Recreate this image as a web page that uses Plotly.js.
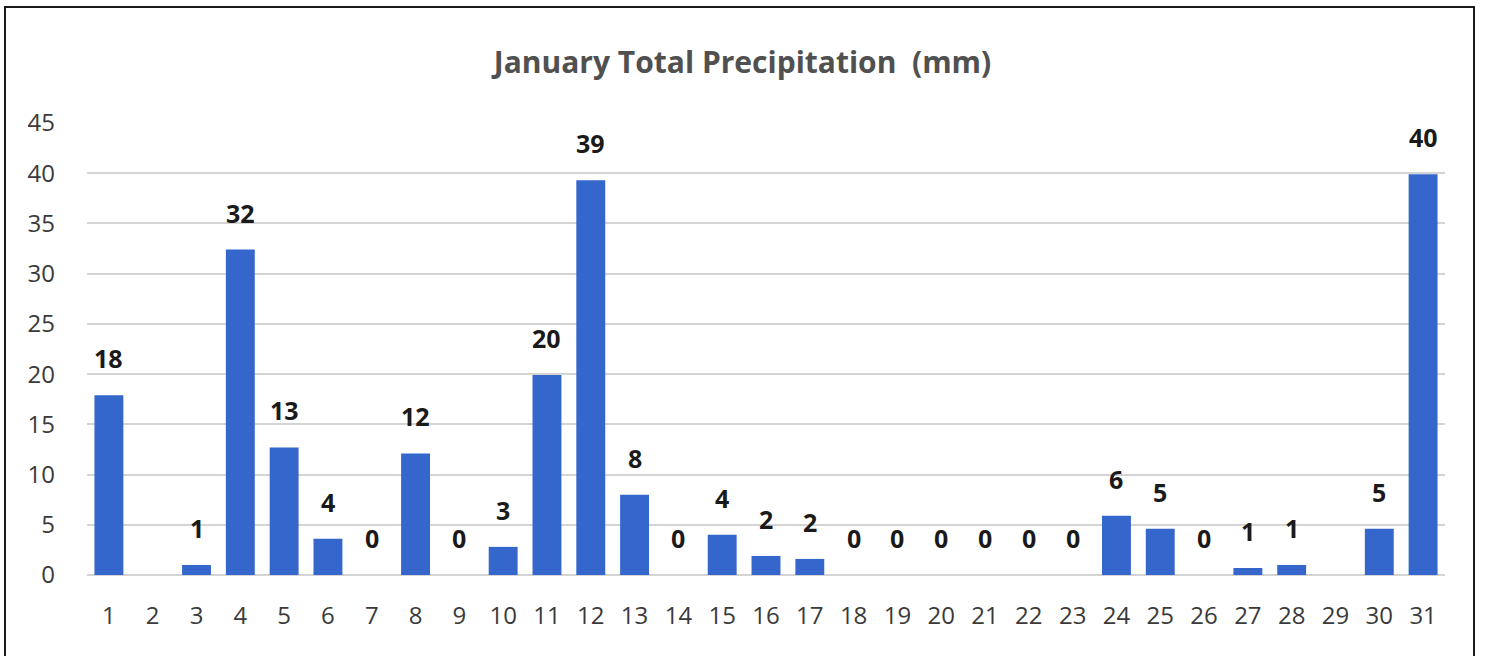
<!DOCTYPE html>
<html>
<head>
<meta charset="utf-8">
<script src="https://cdn.plot.ly/plotly-3.0.1.min.js"></script>
<style>
  html, body { margin: 0; padding: 0; background: #ffffff; }
  #wrap { position: relative; width: 1494px; height: 656px; overflow: hidden; }
  #chart { position: absolute; left: 0; top: 0; width: 1494px; height: 656px; }
  #frame { position: absolute; left: 4px; top: 6px; width: 1467px; height: 700px;
           border: 2px solid #1a1a1a; pointer-events: none; }
</style>
</head>
<body>
<div id="wrap">
  <div id="chart"></div>
  <div id="frame"></div>
</div>
<script>
// Daily precipitation for January (mm); null = no reading
const days = ['1','2','3','4','5','6','7','8','9','10','11','12','13','14','15','16',
              '17','18','19','20','21','22','23','24','25','26','27','28','29','30','31'];
const precipitation = [17.9, null, 1.0, 32.4, 12.7, 3.6, 0, 12.1, 0, 2.8, 19.9, 39.3, 8.0, 0, 4.0, 1.9,
                       1.6, 0, 0, 0, 0, 0, 0, 5.9, 4.6, 0, 0.7, 1.0, null, 4.6, 39.9];
const yTicks = [0, 5, 10, 15, 20, 25, 30, 35, 40, 45];

const FONT = '"Open Sans", "Noto Sans", sans-serif';

// Value labels sit a little above each bar (x is the category index)
const labels = [];
days.forEach((d, i) => {
  const v = precipitation[i];
  if (v === null) return;
  labels.push({
    x: i, y: v, xref: 'x', yref: 'y',
    text: String(Math.round(v)),
    showarrow: false, yanchor: 'middle', yshift: 37,
    font: {family: FONT, size: 25, color: '#1a1a1a', weight: 'bold'}
  });
});

const trace = {
  type: 'bar',
  x: days,
  y: precipitation,
  marker: {color: '#3566cc'},
  hoverinfo: 'x+y'
};

const layout = {
  width: 1494, height: 656,
  margin: {l: 87, r: 49, t: 123, b: 81},
  paper_bgcolor: '#ffffff', plot_bgcolor: '#ffffff',
  title: {
    text: 'January Total Precipitation  (mm)',
    x: 0.497, xanchor: 'center', xref: 'container',
    y: 0.904, yanchor: 'middle', yref: 'container',
    font: {family: FONT, size: 30, color: '#505050', weight: 'bold'}
  },
  bargap: 0.34,
  showlegend: false,
  xaxis: {
    type: 'category',
    tickfont: {family: FONT, size: 24, color: '#3a3a3a'},
    showgrid: false, zeroline: false, showline: false,
    ticks: '', ticklabelstandoff: 24
  },
  yaxis: {
    range: [0, 45],
    tickvals: yTicks,
    tickfont: {family: FONT, size: 24, color: '#3a3a3a'},
    showgrid: true, gridcolor: '#d4d4d4', gridwidth: 2,
    zeroline: true, zerolinecolor: '#d4d4d4', zerolinewidth: 2,
    showline: false, ticks: '', ticklabelstandoff: 31
  },
  annotations: labels
};

Plotly.newPlot('chart', [trace], layout, {displayModeBar: false, staticPlot: true});
</script>
</body>
</html>
